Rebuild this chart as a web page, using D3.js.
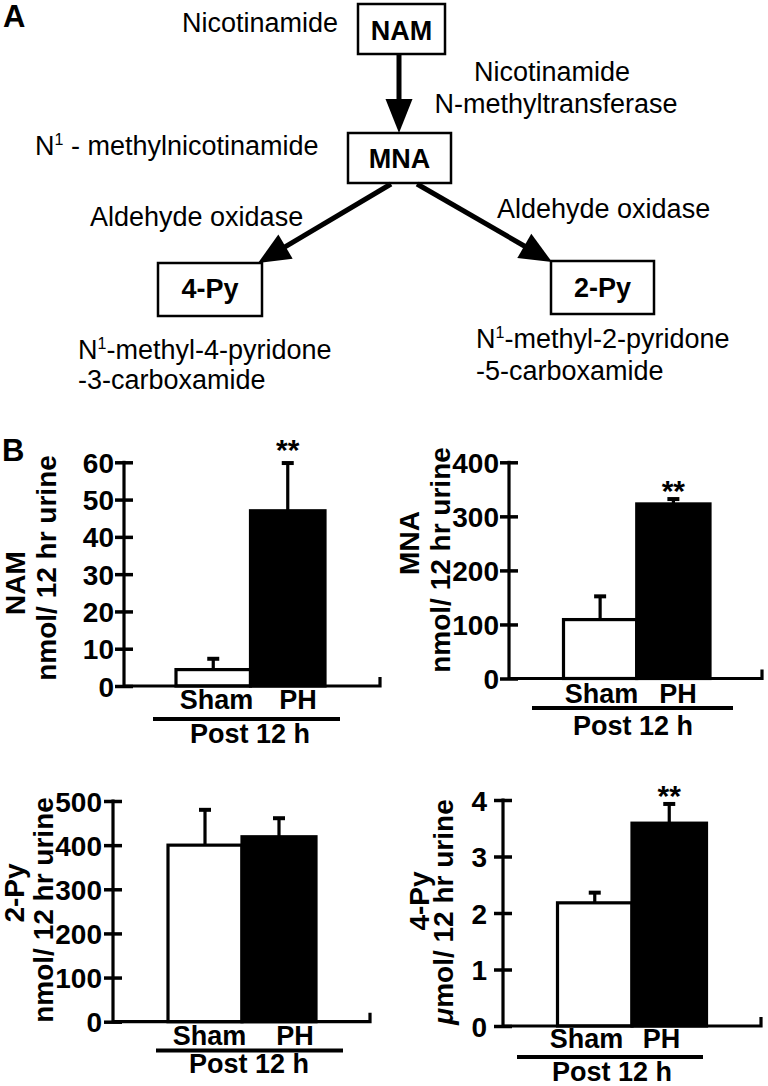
<!DOCTYPE html>
<html><head><meta charset="utf-8">
<script src="https://cdn.jsdelivr.net/npm/d3@7"></script>
<style>
body{margin:0;background:#fff}
svg{display:block}
text{font-family:"Liberation Sans",Arial,Helvetica,sans-serif;fill:#000}
</style>
</head><body><svg id="c" width="768" height="1086"></svg>
<script>
// ---------------- data ----------------
const groups = ["Sham", "PH"];
const namMeans = [4.4, 47];
const namErrs = [2.9, 12.8];
const mnaMeans = [109, 323];
const mnaErrs = [43, 9];
const py2Means = [400, 419];
const py2Errs = [80, 42];
const py4Means = [2.18, 3.59];
const py4Errs = [0.18, 0.34];
const namTicks = [0, 10, 20, 30, 40, 50, 60];
const mnaTicks = [0, 100, 200, 300, 400];
const py2Ticks = [0, 100, 200, 300, 400, 500];
const py4Ticks = [0, 1, 2, 3, 4];
const namSig = ["", "**"];
const mnaSig = ["", "**"];
const py2Sig = ["", ""];
const py4Sig = ["", "**"];
const timeLabel = "Post 12 h";

const svg = d3.select("#c");
const F = '"Liberation Sans",Arial,Helvetica,sans-serif';

// ---------------- panel A: pathway diagram ----------------
const gA = svg.append("g");
gA.append("text").attr("x", 3).attr("y", 27).attr("font-size", 31).attr("font-weight", "bold").text("A");

const boxes = [
  {id: "NAM", x0: 358, x1: 445, y0: 4, y1: 54, ty: 40},
  {id: "MNA", x0: 348, x1: 451, y0: 133, y1: 183, ty: 167.5},
  {id: "4-Py", x0: 158, x1: 262, y0: 263, y1: 316, ty: 298},
  {id: "2-Py", x0: 551, x1: 654, y0: 261, y1: 314, ty: 296.5}
];
boxes.forEach(b => {
  gA.append("rect").attr("x", b.x0).attr("y", b.y0).attr("width", b.x1 - b.x0).attr("height", b.y1 - b.y0)
    .attr("fill", "#fff").attr("stroke", "#000").attr("stroke-width", 2.5);
  gA.append("text").attr("x", (b.x0 + b.x1) / 2).attr("y", b.ty).attr("text-anchor", "middle")
    .attr("font-size", 27).attr("font-weight", "bold").text(b.id);
});

function arrow(x1, y1, x2, y2, hl, hw) {
  const dx = x2 - x1, dy = y2 - y1, L = Math.hypot(dx, dy);
  const ux = dx / L, uy = dy / L;
  const bx = x2 - hl * ux, by = y2 - hl * uy;
  gA.append("line").attr("x1", x1).attr("y1", y1).attr("x2", bx + ux * 2).attr("y2", by + uy * 2)
    .attr("stroke", "#000").attr("stroke-width", 5);
  const px = -uy, py = ux;
  gA.append("polygon").attr("points",
    [[x2, y2], [bx + px * hw / 2, by + py * hw / 2], [bx - px * hw / 2, by - py * hw / 2]].map(p => p.join(",")).join(" "))
    .attr("fill", "#000");
}
arrow(399, 55, 399, 133, 34, 27);
arrow(391, 184, 258, 263, 32, 28);
arrow(417, 184, 552, 262, 32, 28);

function label(x, y, parts, anchor) {
  const t = gA.append("text").attr("x", x).attr("y", y).attr("font-size", 27)
    .attr("text-anchor", anchor || "start");
  let shift = 0;
  parts.forEach(p => {
    if (p.sup) {
      t.append("tspan").attr("font-size", 16).attr("dy", -10).text(p.t);
      shift = 10;
    } else {
      t.append("tspan").attr("dy", shift).text(p.t);
      shift = 0;
    }
  });
  return t;
}
label(182, 32, [{t: "Nicotinamide"}]);
label(552, 81, [{t: "Nicotinamide"}], "middle");
label(556, 113, [{t: "N-methyltransferase"}], "middle");
label(35, 155, [{t: "N"}, {t: "1", sup: true}, {t: " - methylnicotinamide"}]);
label(90, 226, [{t: "Aldehyde oxidase"}]);
label(497, 218, [{t: "Aldehyde oxidase"}]);
label(78, 359, [{t: "N"}, {t: "1", sup: true}, {t: "-methyl-4-pyridone"}]);
label(78, 389, [{t: "-3-carboxamide"}]);
label(476, 348, [{t: "N"}, {t: "1", sup: true}, {t: "-methyl-2-pyridone"}]);
label(476, 380, [{t: "-5-carboxamide"}]);

// ---------------- panel B: bar charts ----------------
svg.append("text").attr("x", 2).attr("y", 461).attr("font-size", 31).attr("font-weight", "bold").text("B");

const panels = [
  {means: namMeans, errs: namErrs, ticks: namTicks, sig: namSig, name: "NAM", unit: "nmol/ 12 hr urine",
   ax: 124, y0: 686, yTop: 462.3, xEnd: 380, band: [176, 325], tlGap: 10,
   nameX: 25, nameY: 583, unitX: 56, unitY: 568, catY: 709, catX: [216.5, 298],
   lineY: 719, lineX: [153, 340], postX: 250, postY: 743, starOff: -3},
  {means: mnaMeans, errs: mnaErrs, ticks: mnaTicks, sig: mnaSig, name: "MNA", unit: "nmol/ 12 hr urine",
   ax: 509, y0: 678.5, yTop: 462.3, xEnd: 762, band: [563.5, 710], tlGap: 10,
   nameX: 419, nameY: 543, unitX: 450, unitY: 560, catY: 703, catX: [601.5, 678],
   lineY: 708, lineX: [532, 733], postX: 633, postY: 735, starOff: 1.5},
  {means: py2Means, errs: py2Errs, ticks: py2Ticks, sig: py2Sig, name: "2-Py", unit: "nmol/ 12 hr urine",
   ax: 113, y0: 1021.7, yTop: 801, xEnd: 370, band: [168, 316], tlGap: 11,
   nameX: 24, nameY: 893, unitX: 53, unitY: 910, catY: 1045, catX: [209.5, 295],
   lineY: 1050.5, lineX: [156, 343], postX: 249, postY: 1073, starOff: 2},
  {means: py4Means, errs: py4Errs, ticks: py4Ticks, sig: py4Sig, name: "4-Py", unit: "mol/ 12 hr urine", mu: true,
   ax: 503, y0: 1026, yTop: 800, xEnd: 761, band: [557.5, 706.5], tlGap: 16,
   nameX: 429, nameY: 901, unitX: 453, unitY: 912, catY: 1048, catX: [586.5, 661.5],
   lineY: 1057, lineX: [517, 703], postX: 612, postY: 1081, starOff: 2.5}
];

panels.forEach(p => {
  const g = svg.append("g");
  const y = d3.scaleLinear().domain([0, d3.max(p.ticks)]).range([p.y0, p.yTop]);
  const x = d3.scaleBand().domain(groups).range(p.band).padding(0);
  const sw = 3.2;

  // bars
  g.selectAll("rect.bar").data(groups).join("rect").attr("class", "bar")
    .attr("x", d => x(d)).attr("width", x.bandwidth())
    .attr("y", (d, i) => y(p.means[i])).attr("height", (d, i) => p.y0 - y(p.means[i]))
    .attr("fill", (d, i) => i === 0 ? "#fff" : "#000")
    .attr("stroke", "#000").attr("stroke-width", sw);

  // error bars
  groups.forEach((d, i) => {
    const cx = x(d) + x.bandwidth() / 2;
    g.append("line").attr("x1", cx).attr("x2", cx).attr("y1", y(p.means[i])).attr("y2", y(p.means[i] + p.errs[i]))
      .attr("stroke", "#000").attr("stroke-width", sw);
    g.append("line").attr("x1", cx - 6).attr("x2", cx + 6).attr("y1", y(p.means[i] + p.errs[i]))
      .attr("y2", y(p.means[i] + p.errs[i])).attr("stroke", "#000").attr("stroke-width", 4);
    if (p.sig[i]) {
      g.append("text").attr("x", cx).attr("y", y(p.means[i] + p.errs[i]) + p.starOff)
        .attr("text-anchor", "middle").attr("font-size", 30).attr("font-weight", "bold").text(p.sig[i]);
    }
  });

  // y axis via d3.axisLeft
  const axis = d3.axisLeft(y).tickValues(p.ticks).tickSize(0).tickPadding(p.tlGap).tickFormat(d3.format("d"));
  const ga = g.append("g").attr("transform", `translate(${p.ax},0)`).call(axis);
  ga.select(".domain").remove();
  ga.selectAll("text").attr("font-size", 28).attr("font-weight", "bold").attr("font-family", F).attr("fill", "#000").attr("dy", "0.36em");
  ga.selectAll(".tick").append("line").attr("x1", -9).attr("x2", 9).attr("stroke", "#000").attr("stroke-width", 3.5);
  g.append("line").attr("x1", p.ax).attr("x2", p.ax).attr("y1", p.y0 + 1.5).attr("y2", p.yTop - 1.5)
    .attr("stroke", "#000").attr("stroke-width", sw);

  // x baseline with end tick
  g.append("path").attr("d", `M${p.ax},${p.y0}H${p.xEnd}V${p.y0 - 9}`)
    .attr("fill", "none").attr("stroke", "#000").attr("stroke-width", sw);

  // category labels
  groups.forEach((d, i) => {
    g.append("text").attr("x", p.catX[i]).attr("y", p.catY).attr("text-anchor", "middle")
      .attr("font-size", 27).attr("font-weight", "bold").text(d);
  });
  g.append("line").attr("x1", p.lineX[0]).attr("x2", p.lineX[1]).attr("y1", p.lineY).attr("y2", p.lineY)
    .attr("stroke", "#000").attr("stroke-width", 4);
  g.append("text").attr("x", p.postX).attr("y", p.postY).attr("text-anchor", "middle")
    .attr("font-size", 27).attr("font-weight", "bold").text(timeLabel);

  // y labels
  g.append("text").attr("transform", `translate(${p.nameX},${p.nameY}) rotate(-90)`).attr("text-anchor", "middle")
    .attr("font-size", 28).attr("font-weight", "bold").text(p.name);
  const ut = g.append("text").attr("transform", `translate(${p.unitX},${p.unitY}) rotate(-90)`).attr("text-anchor", "middle")
    .attr("font-size", 28).attr("font-weight", "bold");
  if (p.mu) ut.append("tspan").attr("font-style", "italic").text("\u03bc");
  ut.append("tspan").text(p.unit);
});
</script>
</body></html>
